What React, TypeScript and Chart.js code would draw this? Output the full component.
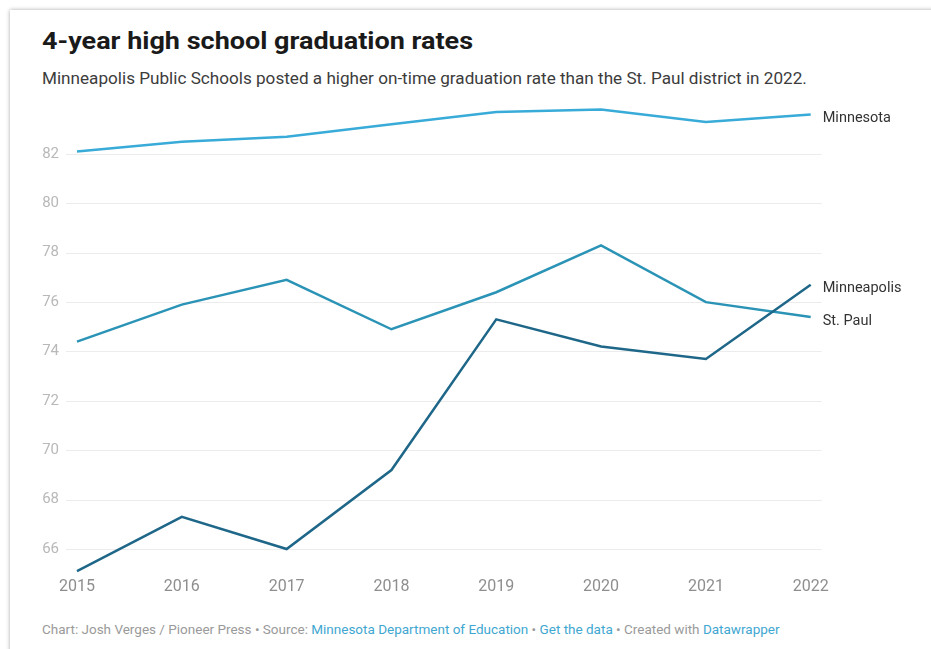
import React, { useEffect, useRef } from "react";
import { Chart, registerables } from "chart.js";

Chart.register(...registerables);

const years = ["2015", "2016", "2017", "2018", "2019", "2020", "2021", "2022"];
const minnesota = [82.1, 82.5, 82.7, 83.2, 83.7, 83.8, 83.3, 83.6];
const stPaul = [74.4, 75.9, 76.9, 74.9, 76.4, 78.3, 76.0, 75.4];
const minneapolis = [65.1, 67.3, 66.0, 69.2, 75.3, 74.2, 73.7, 76.7];
const yTicks = [66, 68, 70, 72, 74, 76, 78, 80, 82];
const seriesNames = ["Minnesota", "Minneapolis", "St. Paul"];

const FONT = "Roboto, 'Noto Sans', sans-serif";

const gridPlugin = {
  id: "extGrid",
  beforeDatasetsDraw(chart: any) {
    const { ctx, chartArea, scales } = chart;
    const y = scales.y;
    ctx.save();
    ctx.strokeStyle = "#ececec";
    ctx.lineWidth = 1;
    y.ticks.forEach((t: any) => {
      const py = Math.round(y.getPixelForValue(t.value)) + 0.5;
      ctx.beginPath();
      ctx.moveTo(chartArea.left - 11, py);
      ctx.lineTo(chartArea.right + 11, py);
      ctx.stroke();
    });
    ctx.restore();
  },
};

const labelPlugin = {
  id: "endLabels",
  afterDatasetsDraw(chart: any) {
    const { ctx } = chart;
    ctx.save();
    ctx.font = `14.5px ${FONT}`;
    ctx.fillStyle = "#333333";
    ctx.textAlign = "left";
    ctx.textBaseline = "middle";
    chart.data.datasets.forEach((ds: any, i: number) => {
      const meta = chart.getDatasetMeta(i);
      const pt = meta.data[meta.data.length - 1];
      ctx.fillText(ds.label, pt.x + 12, pt.y + 4);
    });
    ctx.restore();
  },
};

export default function App() {
  const ref = useRef<HTMLCanvasElement>(null);

  useEffect(() => {
    if (!ref.current) return;
    const chart = new Chart(ref.current, {
      type: "line",
      data: {
        labels: years,
        datasets: [
          { label: seriesNames[0], data: minnesota, borderColor: "#38abd8", borderWidth: 2.5, pointRadius: 0, tension: 0 },
          { label: seriesNames[1], data: minneapolis, borderColor: "#1f6789", borderWidth: 2.5, pointRadius: 0, tension: 0 },
          { label: seriesNames[2], data: stPaul, borderColor: "#2b94b6", borderWidth: 2.5, pointRadius: 0, tension: 0 },
        ],
      },
      options: {
        animation: false,
        responsive: false,
        devicePixelRatio: 1,
        layout: { padding: { top: 9.6, right: 120.3, left: 0, bottom: 0 } },
        plugins: { legend: { display: false }, tooltip: { enabled: false } },
        scales: {
          x: {
            type: "category",
            offset: false,
            grid: { display: false, drawTicks: false },
            border: { display: false },
            ticks: { color: "#8e8e8e", font: { family: FONT, size: 16 }, padding: 4, maxRotation: 0 },
            afterFit: (s: any) => { s.height = 31.3; s.paddingLeft = 0; s.paddingRight = 0; },
          },
          y: {
            min: 65,
            max: 84,
            grid: { display: false, drawTicks: false },
            border: { display: false },
            ticks: { color: "#b8b8b8", font: { family: FONT, size: 15 }, padding: 18 },
            afterBuildTicks: (s: any) => { s.ticks = yTicks.map((v) => ({ value: v })); },
            afterFit: (s: any) => { s.width = 77; s.paddingTop = 0; s.paddingBottom = 0; },
          },
        },
      },
      plugins: [gridPlugin, labelPlugin],
    });
    return () => chart.destroy();
  }, []);

  return (
    <div style={{ position: "fixed", left: 0, top: 0, width: 931, height: 649, background: "#fff", overflow: "hidden", fontFamily: FONT }}>
      <div style={{ position: "absolute", left: 10, top: 10, width: 960, height: 700, background: "#fff", boxShadow: "0 0 4px rgba(0,0,0,0.35)" }} />
      <div style={{ position: "absolute", left: 42, top: 26, fontSize: 24, fontWeight: 700, color: "#1a1a1a", whiteSpace: "nowrap", lineHeight: "30px", transform: "scaleX(1.125)", transformOrigin: "0 0" }}>
        4-year high school graduation rates
      </div>
      <div style={{ position: "absolute", left: 42, top: 69.3, fontSize: 16.5, color: "#3c3c3c", whiteSpace: "nowrap", lineHeight: "20px", transform: "scaleX(1.038)", transformOrigin: "0 0" }}>
        Minneapolis Public Schools posted a higher on-time graduation rate than the St. Paul district in 2022.
      </div>
      <canvas ref={ref} width={931} height={510} style={{ position: "absolute", left: 0, top: 95, width: 931, height: 510 }} />
      <div style={{ position: "absolute", left: 42, top: 621, fontSize: 13.5, color: "#9a9a9a", whiteSpace: "nowrap", lineHeight: "16px" }}>
        Chart: Josh Verges / Pioneer Press • Source: <span style={{ color: "#3fa7d1" }}>Minnesota Department of Education</span> • <span style={{ color: "#3fa7d1" }}>Get the data</span> • Created with <span style={{ color: "#3fa7d1" }}>Datawrapper</span>
      </div>
    </div>
  );
}
